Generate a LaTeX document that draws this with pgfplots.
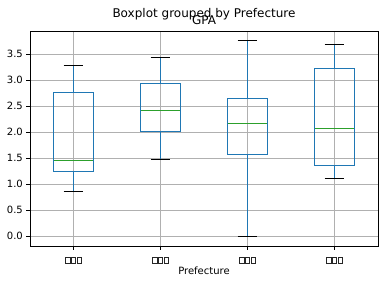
\documentclass[border=0pt]{standalone}
\usepackage{pgfplots}
\pgfplotsset{compat=1.18}
\usepgfplotslibrary{statistics}
\usepackage{fontspec}
\setmainfont{DejaVu Sans}
\definecolor{mblue}{HTML}{1F77B4}
\definecolor{mgreen}{HTML}{2CA02C}
\definecolor{mgrid}{HTML}{B0B0B0}
\newcommand{\tofubox}{\tikz[baseline=0pt, x=1bp, y=1bp]{\draw[line width=0.7bp, black!85] (0.35,0.35) rectangle (5.0,6.6);}}
\newcommand{\tofu}{\tofubox\hspace{0.6bp}\tofubox\hspace{0.6bp}\tofubox}
\begin{document}
\fontsize{10bp}{12bp}\selectfont
\begin{tikzpicture}[x=1bp,y=1bp]
\useasboundingbox (-30,-38) rectangle (352,246);
\begin{axis}[
  at={(0,0)}, anchor=south west,
  scale only axis, width=348bp, height=215bp,
  xmin=0.5, xmax=4.5, ymin=-0.19, ymax=3.94,
  xtick={1,2,3,4},
  xticklabels={\tofu,\tofu,\tofu,\tofu},
  ytick={0,0.5,1,1.5,2,2.5,3,3.5},
  yticklabel style={/pgf/number format/fixed, /pgf/number format/fixed zerofill, /pgf/number format/precision=1},
  /pgf/number format/assume math mode=true,
  tick align=outside, tick pos=left,
  major tick length=3.5bp,
  tick style={black, line width=0.8bp},
  axis line style={black, line width=0.8bp},
  grid=major,
  major grid style={mgrid, line width=0.8bp},
  ticklabel style={font=\fontsize{10bp}{12bp}\selectfont},
  yticklabel style={anchor=east, inner sep=0pt, xshift=-3.5bp},
  xticklabel style={anchor=north, inner sep=0pt, yshift=-7.5bp},
  xlabel={Prefecture},
  xlabel style={font=\fontsize{10bp}{12bp}\selectfont, at={(axis description cs:0.5,0)}, anchor=base, yshift=-28bp},
  boxplot/draw direction=y,
  boxplot/every box/.style={mblue, line width=1bp},
  boxplot/every median/.style={mgreen, line width=1bp},
  boxplot/draw/lower whisker/.code={
    \draw[mblue, line width=1bp] (boxplot box cs:\pgfplotsboxplotvalue{lower quartile},0.5) -- (boxplot box cs:\pgfplotsboxplotvalue{lower whisker},0.5);
    \draw[black, line width=1bp] (boxplot whisker cs:\pgfplotsboxplotvalue{lower whisker},0) -- (boxplot whisker cs:\pgfplotsboxplotvalue{lower whisker},1);
  },
  boxplot/draw/upper whisker/.code={
    \draw[mblue, line width=1bp] (boxplot box cs:\pgfplotsboxplotvalue{upper quartile},0.5) -- (boxplot box cs:\pgfplotsboxplotvalue{upper whisker},0.5);
    \draw[black, line width=1bp] (boxplot whisker cs:\pgfplotsboxplotvalue{upper whisker},0) -- (boxplot whisker cs:\pgfplotsboxplotvalue{upper whisker},1);
  },
]
\addplot[mblue, line width=1bp, boxplot prepared={draw position=1, lower whisker=0.86, lower quartile=1.245, median=1.455, upper quartile=2.76, upper whisker=3.27, box extend=0.45, whisker extend=0.225}] coordinates {};
\addplot[mblue, line width=1bp, boxplot prepared={draw position=2, lower whisker=1.48, lower quartile=2.01, median=2.42, upper quartile=2.94, upper whisker=3.44, box extend=0.45, whisker extend=0.225}] coordinates {};
\addplot[mblue, line width=1bp, boxplot prepared={draw position=3, lower whisker=0.0, lower quartile=1.57, median=2.17, upper quartile=2.65, upper whisker=3.76, box extend=0.45, whisker extend=0.225}] coordinates {};
\addplot[mblue, line width=1bp, boxplot prepared={draw position=4, lower whisker=1.11, lower quartile=1.36, median=2.07, upper quartile=3.22, upper whisker=3.69, box extend=0.45, whisker extend=0.225}] coordinates {};
\end{axis}
\node[anchor=base, font=\fontsize{12bp}{14bp}\selectfont] at (174,229) {Boxplot grouped by Prefecture};
\node[anchor=base, font=\fontsize{12bp}{14bp}\selectfont] at (174,222) {GPA};
\end{tikzpicture}
\end{document}
